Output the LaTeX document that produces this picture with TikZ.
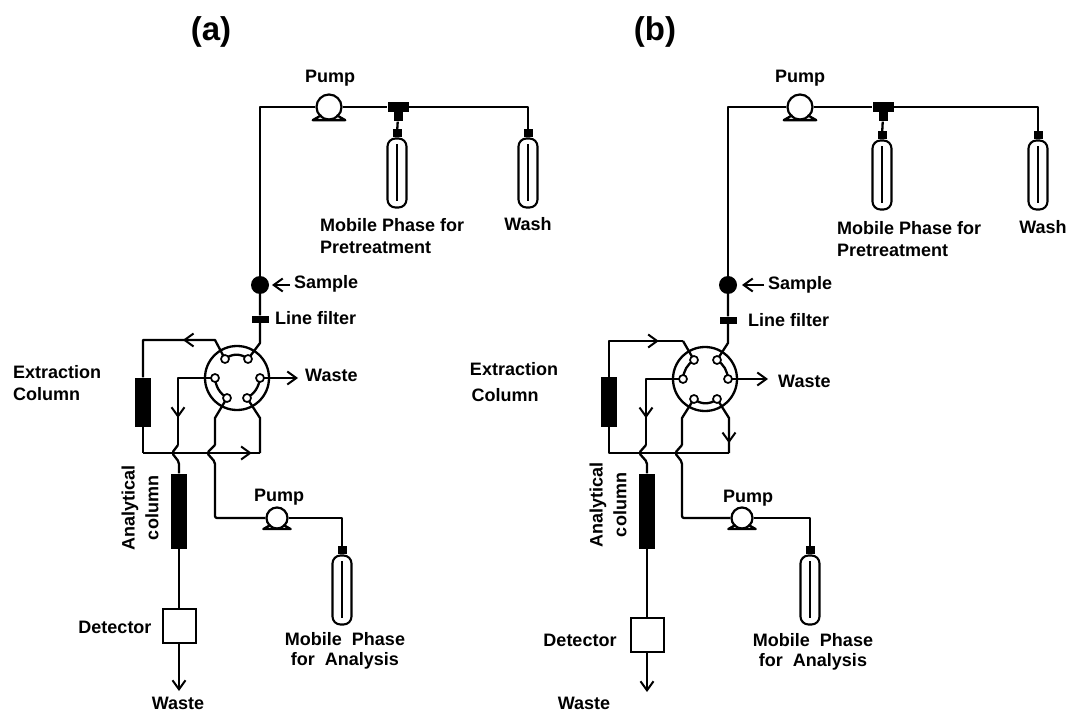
\documentclass[tikz,border=0pt]{standalone}
\usepackage{fontspec}
\setmainfont{Liberation Sans}
\usetikzlibrary{positioning,calc,arrows.meta,decorations.markings}

\tikzset{
    pipe/.style={line width=2.3pt,line join=round},
    jump/.style={pipe,rounded corners=2pt},
    flow/.style={pipe,-{Straight Barb[length=9pt,width=13pt,line width=2pt]}},
    flowmark/.style={postaction={decorate,decoration={markings,mark=at position #1 with {\arrow[line width=2pt]{Straight Barb[length=9pt,width=13pt]}}}}},
    valvebody/.style={circle,draw,line width=2.3pt,minimum size=64pt,inner sep=0pt},
    port/.style={circle,draw,fill=white,line width=1.7pt,minimum size=8pt,inner sep=0pt},
    pumpbody/.style={circle,draw,fill=white,line width=2.2pt,minimum size=#1,inner sep=0pt},
    bottle/.style={draw,fill=white,line width=2.1pt,rounded corners=8pt,minimum width=19pt,minimum height=69pt,inner sep=0pt},
    bottlecap/.style={fill=black,minimum width=9pt,minimum height=8pt,inner sep=0pt},
    colbar/.style={fill=black,minimum width=16pt,minimum height=#1,inner sep=0pt},
    filterbar/.style={fill=black,minimum width=17pt,minimum height=7pt,inner sep=0pt},
    sampledot/.style={circle,fill=black,minimum size=18pt,inner sep=0pt},
    detectorbox/.style={draw,fill=white,line width=2pt,minimum width=33pt,minimum height=34pt,inner sep=0pt},
    teehead/.style={fill=black,minimum width=21pt,minimum height=10pt,inner sep=0pt},
    teestem/.style={fill=black,minimum width=9pt,minimum height=9pt,inner sep=0pt},
    lbl/.style={font=\fontsize{18}{20}\selectfont\bfseries,inner sep=0pt},
    paneltitle/.style={font=\fontsize{33}{35}\selectfont\bfseries,inner sep=0pt},
}

% foot of a pump
\newcommand{\pumpfoot}[2]{\draw[pipe] ($(#1)+(-0.6*#2,0.65*#2)$) -- ($(#1)+(-1.3*#2,1.05*#2)$) -- ($(#1)+(1.3*#2,1.05*#2)$) -- ($(#1)+(0.6*#2,0.65*#2)$);}
% tube inside a bottle
\newcommand{\bottletube}[1]{\draw[line width=1.6pt] ($(#1.north)+(0,7)$) -- ($(#1.south)+(0,-8)$);}

\begin{document}
\begin{tikzpicture}[x=1pt,y=-1pt]
    \useasboundingbox (0,0) rectangle (1068,711);

    % ---- panel (a)
    \node[paneltitle] (titleA) at (211,32) {(a)};

    \node[pumpbody=25pt] (pumpA) at (329,107) {};
    \node[teehead] (teeA) at (398,107) {};
    \node[teestem,below=0pt of teeA] (teeStemA) {};
    \node[bottle] (preBottleA) at (397,173) {};
    \node[bottlecap,above=0pt of preBottleA] (preCapA) {};
    \node[bottle] (washBottleA) at (528,173) {};
    \node[bottlecap,above=0pt of washBottleA] (washCapA) {};
    \node[sampledot] (sampleA) at (260,285) {};
    \node[filterbar] (filterA) at (260,319) {};
    \node[valvebody] (valveA) at (237,378) {};
    \node[colbar=49pt] (extractA) at (143,402) {};
    \node[colbar=75pt] (analyticA) at (179,511) {};
    \node[detectorbox] (detectorA) at (179,626) {};
    \node[pumpbody=21pt] (pumpLowA) at (277,518) {};
    \node[bottle] (anaBottleA) at (342,590) {};
    \node[bottlecap,above=0pt of anaBottleA] (anaCapA) {};

    \foreach \p/\dx/\dy in {tl/-12/-19,tr/11/-19,ml/-22/0,mr/23/0,bl/-10/20,br/10/20}
        \coordinate (A\p) at ($(valveA)+(\dx,\dy)$);

    \coordinate (topA) at (260,107);
    \coordinate (washTopA) at (528,107);
    \coordinate (inA) at (260,343);
    \coordinate (leftTopA) at (215,340);
    \coordinate (leftA) at (143,340);
    \coordinate (botLeftA) at (143,453);
    \coordinate (botRightA) at (260,453);
    \coordinate (rightA) at (260,418);
    \coordinate (wasteEndA) at (298,378);
    \coordinate (anaTurnA) at (215,518);
    \coordinate (anaTopA) at (342,518);
    \coordinate (sampleEndA) at (272,285);
    \coordinate (wasteLowA) at (179,691);

    \draw[pipe] (sampleA) -- (topA) -- (pumpA);
    \draw[pipe] (pumpA) -- (teeA) -- (washTopA) -- (washCapA);
    \draw[pipe] (teeStemA) -- (preCapA);
    \draw[pipe] (sampleA) -- (filterA) -- (inA) -- (Atr);
    \draw[pipe,flowmark=0.41] (Atl) -- (leftTopA) -- (leftA) -- (extractA);
    \draw[pipe] (extractA) -- (botLeftA);
    \draw[pipe,flowmark=0.93] (botLeftA) -- (botRightA);
    \draw[pipe] (botRightA) -- (rightA) -- (Abr);
    \draw[flow] (Amr) -- (wasteEndA);
    \draw[flow] ($(sampleA)+(30,0)$) -- (sampleEndA);
    \draw[pipe,flowmark=0.74] (Aml) -- (178,378) -- (178,445);
    \draw[jump] (178,445) -- (172,453) -- (179,462) -- (analyticA);
    \draw[pipe] (Abl) -- (215,418) -- (215,445);
    \draw[jump] (215,445) -- (207,453) -- (215,462) -- (anaTurnA) -- (pumpLowA);
    \draw[pipe] (pumpLowA) -- (anaTopA) -- (anaCapA);
    \draw[pipe] (analyticA) -- (detectorA);
    \draw[flow] (detectorA) -- (wasteLowA);

    \draw[pipe] (Atl) to[bend left=40] (Atr);
    \draw[pipe] (Aml) to[bend right=25] (Abl);
    \draw[pipe] (Amr) to[bend left=25] (Abr);
    \foreach \p in {tl,tr,ml,mr,bl,br}
        \node[port] (portA\p) at (A\p) {};

    \pumpfoot{pumpA}{12.5}
    \pumpfoot{pumpLowA}{10.5}
    \bottletube{preBottleA}
    \bottletube{washBottleA}
    \bottletube{anaBottleA}

    \node[lbl] (pumpLblA) at (330,78) {Pump};
    \node[lbl,anchor=west] (preLblA) at (320,225) {Mobile Phase for};
    \node[lbl,anchor=west] (preLbl2A) at (320,247) {Pretreatment};
    \node[lbl] (washLblA) at (528,224) {Wash};
    \node[lbl,anchor=west] (sampleLblA) at (294,284) {Sample};
    \node[lbl,anchor=west] (filterLblA) at (275,318) {Line filter};
    \node[lbl,anchor=west] (wasteLblA) at (305,375) {Waste};
    \node[lbl,anchor=west] (extractLblA) at (13,372) {Extraction};
    \node[lbl,anchor=west] (extractLbl2A) at (13,394) {Column};
    \node[lbl,rotate=90] (anaLblA) at (130,508) {Analytical};
    \node[lbl,rotate=90] (anaLbl2A) at (152,508) {column};
    \node[lbl] (pumpLowLblA) at (279,497) {Pump};
    \node[lbl] (detLblA) at (115,627) {Detector};
    \node[lbl] (wasteLowLblA) at (178,703) {Waste};
    \node[lbl] (anaBottleLblA) at (345,639) {Mobile\ \ Phase};
    \node[lbl] (anaBottleLbl2A) at (345,661) {for\ \ Analysis};

    % ---- panel (b)
    \node[paneltitle] (titleB) at (655,32) {(b)};

    \node[pumpbody=25pt] (pumpB) at (800,107) {};
    \node[teehead] (teeB) at (883,107) {};
    \node[teestem,below=0pt of teeB] (teeStemB) {};
    \node[bottle] (preBottleB) at (882,175) {};
    \node[bottlecap,above=0pt of preBottleB] (preCapB) {};
    \node[bottle] (washBottleB) at (1038,175) {};
    \node[bottlecap,above=0pt of washBottleB] (washCapB) {};
    \node[sampledot] (sampleB) at (728,285) {};
    \node[filterbar] (filterB) at (728,320) {};
    \node[valvebody] (valveB) at (705,379) {};
    \node[colbar=50pt] (extractB) at (609,402) {};
    \node[colbar=75pt] (analyticB) at (647,511) {};
    \node[detectorbox] (detectorB) at (647,635) {};
    \node[pumpbody=21pt] (pumpLowB) at (742,518) {};
    \node[bottle] (anaBottleB) at (810,590) {};
    \node[bottlecap,above=0pt of anaBottleB] (anaCapB) {};

    \foreach \p/\dx/\dy in {tl/-11/-19,tr/12/-19,ml/-22/0,mr/23/0,bl/-11/20,br/12/20}
        \coordinate (B\p) at ($(valveB)+(\dx,\dy)$);

    \coordinate (topB) at (728,107);
    \coordinate (washTopB) at (1038,107);
    \coordinate (inB) at (728,343);
    \coordinate (leftTopB) at (683,341);
    \coordinate (leftB) at (609,341);
    \coordinate (botLeftB) at (609,453);
    \coordinate (botRightB) at (729,453);
    \coordinate (rightB) at (729,418);
    \coordinate (wasteEndB) at (768,379);
    \coordinate (anaTurnB) at (682,518);
    \coordinate (anaTopB) at (810,518);
    \coordinate (sampleEndB) at (742,285);
    \coordinate (wasteLowB) at (647,692);

    \draw[pipe] (sampleB) -- (topB) -- (pumpB);
    \draw[pipe] (pumpB) -- (teeB) -- (washTopB) -- (washCapB);
    \draw[pipe] (teeStemB) -- (preCapB);
    \draw[pipe] (sampleB) -- (filterB) -- (inB) -- (Btr);
    \draw[pipe,flowmark=0.78] (extractB) -- (leftB) -- (leftTopB);
    \draw[pipe] (leftTopB) -- (Btl);
    \draw[pipe] (extractB) -- (botLeftB) -- (botRightB);
    \draw[pipe,flowmark=0.83] (Bbr) -- (rightB) -- (botRightB);
    \draw[flow] (Bmr) -- (wasteEndB);
    \draw[flow] ($(sampleB)+(36,0)$) -- (sampleEndB);
    \draw[pipe,flowmark=0.74] (Bml) -- (646,379) -- (646,445);
    \draw[jump] (646,445) -- (639,453) -- (647,462) -- (analyticB);
    \draw[pipe] (Bbl) -- (682,418) -- (682,445);
    \draw[jump] (682,445) -- (675,453) -- (682,462) -- (anaTurnB) -- (pumpLowB);
    \draw[pipe] (pumpLowB) -- (anaTopB) -- (anaCapB);
    \draw[pipe] (analyticB) -- (detectorB);
    \draw[flow] (detectorB) -- (wasteLowB);

    \draw[pipe] (Btl) to[bend right=25] (Bml);
    \draw[pipe] (Btr) to[bend left=25] (Bmr);
    \draw[pipe] (Bbl) to[bend right=40] (Bbr);
    \foreach \p in {tl,tr,ml,mr,bl,br}
        \node[port] (portB\p) at (B\p) {};

    \pumpfoot{pumpB}{12.5}
    \pumpfoot{pumpLowB}{10.5}
    \bottletube{preBottleB}
    \bottletube{washBottleB}
    \bottletube{anaBottleB}

    \node[lbl] (pumpLblB) at (800,78) {Pump};
    \node[lbl,anchor=west] (preLblB) at (837,228) {Mobile Phase for};
    \node[lbl,anchor=west] (preLbl2B) at (837,250) {Pretreatment};
    \node[lbl] (washLblB) at (1043,227) {Wash};
    \node[lbl,anchor=west] (sampleLblB) at (768,285) {Sample};
    \node[lbl,anchor=west] (filterLblB) at (748,320) {Line filter};
    \node[lbl,anchor=west] (wasteLblB) at (778,381) {Waste};
    \node[lbl] (extractLblB) at (514,369) {Extraction};
    \node[lbl] (extractLbl2B) at (505,395) {Column};
    \node[lbl,rotate=90] (anaLblB) at (598,505) {Analytical};
    \node[lbl,rotate=90] (anaLbl2B) at (620,505) {column};
    \node[lbl] (pumpLowLblB) at (748,498) {Pump};
    \node[lbl] (detLblB) at (580,640) {Detector};
    \node[lbl] (wasteLowLblB) at (584,703) {Waste};
    \node[lbl] (anaBottleLblB) at (813,640) {Mobile\ \ Phase};
    \node[lbl] (anaBottleLbl2B) at (813,662) {for\ \ Analysis};
\end{tikzpicture}
\end{document}
